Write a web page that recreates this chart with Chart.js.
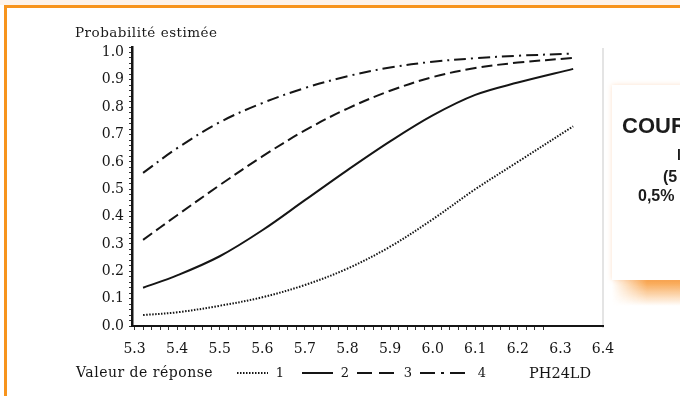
<!DOCTYPE html>
<html lang="fr">
<head>
<meta charset="utf-8">
<script src="https://cdn.jsdelivr.net/npm/chart.js@4.4.1/dist/chart.umd.min.js"></script>
<style>
  html, body { margin: 0; padding: 0; }
  body { width: 680px; height: 396px; position: relative; overflow: hidden; background: #fff; }
  .strip { position: absolute; left: 0; top: 0; width: 680px; height: 5px; background: #fdf3ea; }
  .bordTop { position: absolute; left: 4px; top: 5px; width: 676px; height: 3px; background: #f7941d; }
  .bordLeft { position: absolute; left: 4px; top: 5px; width: 3px; height: 391px; background: #f7941d; }
  .rline { position: absolute; left: 602px; top: 48px; width: 2px; height: 280px; background: #e4e4e4; }
  #wrap { position: absolute; left: 0; top: 0; width: 680px; height: 396px; }
  .ytitle { position: absolute; left: 75px; top: 24px; font: 13.5px "DejaVu Serif", serif; letter-spacing: 0.5px; color: #1a1a1a; white-space: nowrap; }
  .box { position: absolute; left: 612px; top: 85px; width: 130px; height: 195px; background: #fff;
         box-shadow: 0 0 5px rgba(250, 190, 140, 0.45); }
  .glow { position: absolute; left: 612px; top: 280px; width: 130px; height: 26px;
          background: linear-gradient(to bottom, rgba(247, 148, 45, 0.9), rgba(255, 255, 255, 0));
          -webkit-mask-image: linear-gradient(to right, transparent, #000 35px); }
  .bt { position: absolute; font-family: "Liberation Sans", Arial, sans-serif; font-weight: bold; color: #1c1c1c; white-space: nowrap; }
</style>
</head>
<body>
<div class="strip"></div>
<div class="bordTop"></div>
<div class="bordLeft"></div>
<div class="rline"></div>
<div id="wrap"><canvas id="chart" width="680" height="396"></canvas></div>
<div class="ytitle">Probabilité estimée</div>
<div class="glow"></div>
<div class="box"></div>
<div class="bt" style="left:622px; top:113px; font-size:22px;">COURBES</div>
<div class="bt" style="left:677px; top:147px; font-size:14px;">l</div>
<div class="bt" style="left:663px; top:168px; font-size:16px;">(5</div>
<div class="bt" style="left:638px; top:187px; font-size:16px;">0,5%</div>

<script>
// valeurs (PH24LD en abscisse)
const xValues = [5.32, 5.4, 5.5, 5.6, 5.7, 5.8, 5.9, 6.0, 6.1, 6.2, 6.33];
const rep1 = [0.04, 0.05, 0.074, 0.105, 0.15, 0.21, 0.29, 0.39, 0.5, 0.6, 0.73];
const rep2 = [0.14, 0.185, 0.255, 0.35, 0.46, 0.57, 0.675, 0.77, 0.845, 0.89, 0.94];
const rep3 = [0.315, 0.405, 0.515, 0.62, 0.715, 0.795, 0.86, 0.91, 0.943, 0.963, 0.98];
const rep4 = [0.56, 0.65, 0.745, 0.815, 0.87, 0.913, 0.945, 0.966, 0.979, 0.988, 0.996];

const seriesNames = ["1", "2", "3", "4"];
const xTickLabels = ["5.3", "5.4", "5.5", "5.6", "5.7", "5.8", "5.9", "6.0", "6.1", "6.2", "6.3", "6.4"];
const yTickLabels = ["0.0", "0.1", "0.2", "0.3", "0.4", "0.5", "0.6", "0.7", "0.8", "0.9", "1.0"];

const INK = "#151515";
const serif = "'DejaVu Serif', serif";

function toPoints(vals) {
  return vals.map((v, i) => ({ x: xValues[i], y: v }));
}

function labelFor(value, list) {
  const hit = list.find(l => Math.abs(parseFloat(l) - value) < 1e-6);
  return hit || "";
}

// petites graduations tous les 0.02
function minorTicks(from, to) {
  const out = [];
  for (let k = Math.round(from * 50); k <= Math.round(to * 50); k++) out.push({ value: k / 50 });
  return out;
}

// légende en bas : "Valeur de réponse  ····· 1  —— 2 ..."
const legendRow = {
  id: "legendRow",
  afterDraw(chart) {
    const c = chart.ctx;
    const y = 373;
    const samples = [
      { x0: 237, x1: 268, tx: 280, dash: [1.5, 1.5] },
      { x0: 302, x1: 333, tx: 345, dash: [] },
      { x0: 357, x1: 398, tx: 408, dash: [15, 7] },
      { x0: 420, x1: 470, tx: 482, dash: [15, 6, 3, 6] },
    ];
    c.save();
    c.fillStyle = INK;
    c.textBaseline = "middle";
    c.font = "14px " + serif;
    c.letterSpacing = "0.5px";
    c.fillText("Valeur de réponse", 76, y);
    c.letterSpacing = "0px";
    samples.forEach((s, i) => {
      c.beginPath();
      c.setLineDash(s.dash);
      c.lineWidth = 2;
      c.strokeStyle = INK;
      c.moveTo(s.x0, y);
      c.lineTo(s.x1, y);
      c.stroke();
      c.setLineDash([]);
      c.font = "13px " + serif;
      c.textAlign = "center";
      c.fillText(seriesNames[i], s.tx, y + 1);
      c.textAlign = "left";
    });
    c.font = "14.5px " + serif;
    c.fillText("PH24LD", 529, y + 1);
    c.restore();
  },
};

const lineStyle = (data, dash, label) => ({
  label,
  data: toPoints(data),
  borderColor: INK,
  borderWidth: 2,
  borderDash: dash,
  pointRadius: 0,
  fill: false,
  tension: 0.35,
});

new Chart(document.getElementById("chart"), {
  type: "line",
  data: {
    datasets: [
      lineStyle(rep1, [1.5, 1.5], seriesNames[0]),
      lineStyle(rep2, [], seriesNames[1]),
      lineStyle(rep3, [11, 5], seriesNames[2]),
      lineStyle(rep4, [12, 5, 2, 5], seriesNames[3]),
    ],
  },
  options: {
    responsive: false,
    animation: false,
    devicePixelRatio: 1,
    layout: { padding: { top: 47, right: 77, left: 0, bottom: 0 } },
    plugins: { legend: { display: false }, tooltip: { enabled: false } },
    scales: {
      x: {
        type: "linear",
        min: 5.294,
        max: 6.4,
        afterBuildTicks: axis => { axis.ticks = minorTicks(5.3, 6.4); },
        afterFit: s => { s.height = 70; },
        ticks: {
          autoSkip: false,
          maxRotation: 0,
          padding: 11,
          color: INK,
          font: { family: serif, size: 14 },
          callback: v => labelFor(v, xTickLabels),
        },
        grid: {
          drawOnChartArea: false,
          drawTicks: true,
          tickLength: 4,
          tickColor: ctx => (ctx.tick && ctx.tick.value > 6.27 ? "rgba(0,0,0,0)" : "#333"),
        },
        border: { color: INK, width: 2 },
      },
      y: {
        min: 0,
        max: 1.02,
        afterBuildTicks: axis => { axis.ticks = minorTicks(0, 1.02); },
        afterFit: s => { s.width = 132; },
        ticks: {
          autoSkip: false,
          padding: 5,
          color: INK,
          font: { family: serif, size: 14 },
          callback: v => labelFor(v, yTickLabels),
        },
        grid: { drawOnChartArea: false, drawTicks: true, tickLength: 3, tickColor: "#333" },
        border: { color: INK, width: 2.5 },
      },
    },
  },
  plugins: [legendRow],
});
</script>
</body>
</html>
